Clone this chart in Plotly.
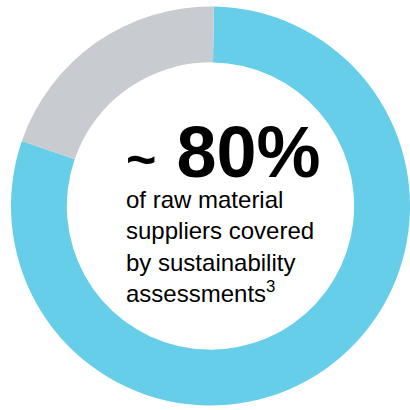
import plotly.graph_objects as go

labels = ["Covered by sustainability assessments", "Not covered"]
values = [80, 20]
colors = ["#66CEE8", "#C8CBD0"]

headline = "<b><span style='font-size:52px'>~</span><span style='font-size:72px'> 80%</span></b>"
body_lines = ["of raw material", "suppliers covered", "by sustainability", "assessments<sup>3</sup>"]

W, H = 410, 410
ML, MR, MT, MB = 11, 0, 6, 4
PW, PH = W - ML - MR, H - MT - MB

def px(x):
    return (x - ML) / PW

def py(y):
    return (H - MB - y) / PH

fig = go.Figure(go.Pie(
    labels=labels, values=values,
    marker=dict(colors=colors, line=dict(width=0)),
    hole=0.72, sort=False, direction="clockwise", rotation=1,
    textinfo="none", hoverinfo="skip", showlegend=False,
))

fig.add_annotation(
    text="<br>".join([headline] + body_lines),
    x=px(124), y=py(309), xref="paper", yref="paper",
    xanchor="left", yanchor="bottom", align="left", showarrow=False,
    font=dict(family="Liberation Sans", size=24, color="#000000"),
)

fig.update_layout(
    width=W, height=H, margin=dict(l=ML, r=MR, t=MT, b=MB),
    paper_bgcolor="white", plot_bgcolor="white",
)
fig.write_html("out.html", config={"displayModeBar": False},
               post_script="document.body.style.margin='0px';")
